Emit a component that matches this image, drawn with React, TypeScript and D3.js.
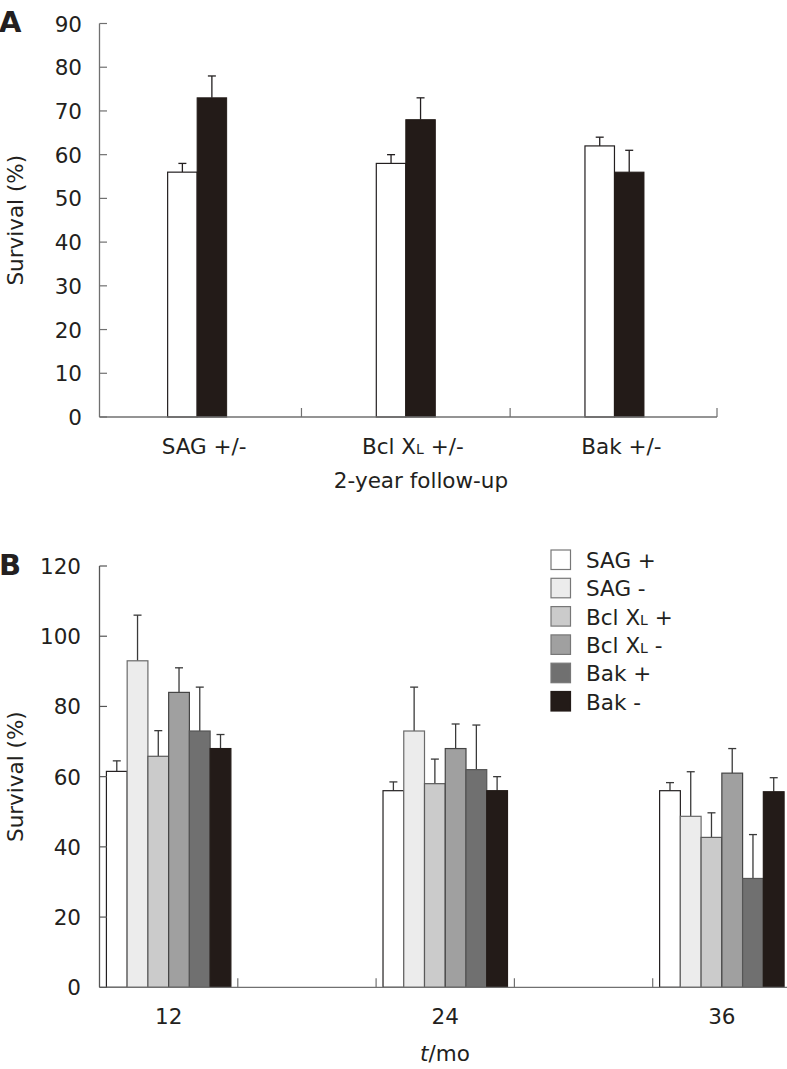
import React from "react";
import * as d3 from "d3";

// ---------- Panel A data ----------
const catsA = ["SAG", "BclXL", "Bak"];
const posA = [56, 58, 62];
const posAErr = [2, 2, 2];
const negA = [73, 68, 56];
const negAErr = [5, 5, 5];
const ticksA = [0, 10, 20, 30, 40, 50, 60, 70, 80, 90];

// ---------- Panel B data ----------
const monthsB = [12, 24, 36];
const seriesB = ["SAG +", "SAG -", "Bcl XL +", "Bcl XL -", "Bak +", "Bak -"];
const sagPos = [61.5, 56, 56];
const sagPosErr = [3, 2.5, 2.3];
const sagNeg = [93, 73, 48.7];
const sagNegErr = [13, 12.5, 12.7];
const bclPos = [65.8, 58, 42.7];
const bclPosErr = [7.3, 7, 7];
const bclNeg = [84, 68, 61];
const bclNegErr = [7, 7, 7];
const bakPos = [73, 62, 31];
const bakPosErr = [12.5, 12.7, 12.5];
const bakNeg = [68, 56, 55.7];
const bakNegErr = [4, 4, 4];
const ticksB = [0, 20, 40, 60, 80, 100, 120];
const colorsB = ["#ffffff", "#ececec", "#cbcbcb", "#a0a0a0", "#707070", "#231b18"];
const strokesB = ["#231f20", "#6a6a6a", "#5a5a5a", "#444", "#555", "#231b18"];

const valsB = [sagPos, sagNeg, bclPos, bclNeg, bakPos, bakNeg];
const errsB = [sagPosErr, sagNegErr, bclPosErr, bclNegErr, bakPosErr, bakNegErr];

const FONT = "DejaVu Sans";
const FS = 21.5;
const SUB = 14;

function CatLabel({ name, x, y }: { name: string; x: number; y: number }) {
  if (name === "BclXL") {
    return (
      <text x={x} y={y} textAnchor="middle" fontFamily={FONT} fontSize={FS} fill="#231f20">
        Bcl X<tspan fontSize={SUB}>L</tspan> +/-
      </text>
    );
  }
  return (
    <text x={x} y={y} textAnchor="middle" fontFamily={FONT} fontSize={FS} fill="#231f20">
      {name} +/-
    </text>
  );
}

function LegendLabel({ name, x, y }: { name: string; x: number; y: number }) {
  if (name.startsWith("Bcl XL")) {
    const rest = name.slice(6);
    return (
      <text x={x} y={y} fontFamily={FONT} fontSize={FS} fill="#231f20">
        Bcl X<tspan fontSize={SUB}>L</tspan>{rest}
      </text>
    );
  }
  return (
    <text x={x} y={y} fontFamily={FONT} fontSize={FS} fill="#231f20">
      {name}
    </text>
  );
}

export default function App() {
  // Panel A scales
  const xA = d3.scaleBand<string>().domain(catsA).range([92.8, 718.8]).padding(0);
  const yA = d3.scaleLinear().domain([0, 90]).range([417, 23.5]);
  const bwA = 29.5;

  // Panel B scales
  const xB = d3.scaleLinear().domain([9, 39]).range([99.5, 791]);
  const yB = d3.scaleLinear().domain([0, 120]).range([987.3, 566]);
  const bwB = (xB(15) - xB(9)) * 0.15;
  const axisTicksB = d3.range(9, 40, 6);

  const cap = 4;

  return (
    <svg
      width={787}
      height={1069}
      style={{ position: "absolute", left: 0, top: 0, background: "#fff" }}
    >
      <rect x={0} y={0} width={787} height={1069} fill="#fff" />
      {/* Panel letters */}
      <text x={-1} y={32} fontFamily={FONT} fontSize={29} fontWeight="bold" fill="#231f20">
        A
      </text>
      <text x={-1} y={575} fontFamily={FONT} fontSize={29} fontWeight="bold" fill="#231f20">
        B
      </text>

      {/* ================= Panel A ================= */}
      {catsA.map((c, i) => {
        const cx = xA(c)! + xA.bandwidth() / 2;
        const xw = cx - bwA;
        const xb = cx;
        const topW = yA(posA[i]);
        const topB = yA(negA[i]);
        const eW = yA(posA[i] + posAErr[i]);
        const eB = yA(negA[i] + negAErr[i]);
        return (
          <g key={c}>
            <line x1={xw + bwA / 2} x2={xw + bwA / 2} y1={topW} y2={eW} stroke="#231f20" strokeWidth={1.3} />
            <line x1={xw + bwA / 2 - cap} x2={xw + bwA / 2 + cap} y1={eW} y2={eW} stroke="#231f20" strokeWidth={1.3} />
            <line x1={xb + bwA / 2} x2={xb + bwA / 2} y1={topB} y2={eB} stroke="#231f20" strokeWidth={1.3} />
            <line x1={xb + bwA / 2 - cap} x2={xb + bwA / 2 + cap} y1={eB} y2={eB} stroke="#231f20" strokeWidth={1.3} />
            <rect x={xw} y={topW} width={bwA} height={yA(0) - topW} fill="#fff" stroke="#231f20" strokeWidth={1.2} />
            <rect x={xb} y={topB} width={bwA} height={yA(0) - topB} fill="#231b18" stroke="#231b18" strokeWidth={1} />
            <CatLabel name={c} x={cx + 7} y={454} />
          </g>
        );
      })}
      {/* axes A */}
      <line x1={99.5} x2={99.5} y1={yA(90)} y2={yA(0)} stroke="#707070" strokeWidth={1.3} />
      <line x1={99.5} x2={717} y1={yA(0)} y2={yA(0)} stroke="#707070" strokeWidth={1.3} />
      {ticksA.map((t) => (
        <g key={t}>
          <line x1={99.5} x2={107} y1={yA(t)} y2={yA(t)} stroke="#707070" strokeWidth={1.2} />
          <text x={82} y={yA(t) + 8} textAnchor="end" fontFamily={FONT} fontSize={FS} fill="#231f20">
            {t}
          </text>
        </g>
      ))}
      {catsA.slice(0, 2).map((c) => (
        <line key={c} x1={xA(c)! + xA.bandwidth()} x2={xA(c)! + xA.bandwidth()} y1={yA(0)} y2={yA(0) - 9} stroke="#707070" strokeWidth={1.2} />
      ))}
      <line x1={717} x2={717} y1={yA(0)} y2={yA(0) - 9} stroke="#707070" strokeWidth={1.2} />
      <text x={421} y={488} textAnchor="middle" fontFamily={FONT} fontSize={FS} fill="#231f20">
        2-year follow-up
      </text>
      <text
        transform={`translate(23, ${(yA(0) + yA(90)) / 2}) rotate(-90)`}
        textAnchor="middle"
        fontFamily={FONT}
        fontSize={FS}
        fill="#231f20"
      >
        Survival (%)
      </text>

      {/* ================= Panel B ================= */}
      {monthsB.map((m, mi) => {
        const start = xB(m) - 3 * bwB;
        return (
          <g key={m}>
            {seriesB.map((s, si) => {
              const x0 = start + si * bwB;
              const v = valsB[si][mi];
              const e = errsB[si][mi];
              const top = yB(v);
              const et = yB(v + e);
              const cx = x0 + bwB / 2;
              return (
                <g key={s}>
                  <line x1={cx} x2={cx} y1={top} y2={et} stroke="#3a3a3a" strokeWidth={1.3} />
                  <line x1={cx - cap} x2={cx + cap} y1={et} y2={et} stroke="#3a3a3a" strokeWidth={1.3} />
                  <rect x={x0} y={top} width={bwB} height={yB(0) - top} fill={colorsB[si]} stroke={strokesB[si]} strokeWidth={1.2} />
                </g>
              );
            })}
            <text x={xB(m)} y={1024} textAnchor="middle" fontFamily={FONT} fontSize={FS} fill="#231f20">
              {m}
            </text>
          </g>
        );
      })}
      {/* axes B */}
      <line x1={99.5} x2={99.5} y1={yB(120)} y2={yB(0)} stroke="#555" strokeWidth={1.3} />
      <line x1={99.5} x2={791} y1={yB(0)} y2={yB(0)} stroke="#707070" strokeWidth={1.3} />
      {ticksB.map((t) => (
        <g key={t}>
          <line x1={99.5} x2={107} y1={yB(t)} y2={yB(t)} stroke="#555" strokeWidth={1.2} />
          <text x={81} y={yB(t) + 8} textAnchor="end" fontFamily={FONT} fontSize={FS} fill="#231f20">
            {t}
          </text>
        </g>
      ))}
      {axisTicksB.slice(1).map((t) => (
        <line key={t} x1={xB(t)} x2={xB(t)} y1={yB(0)} y2={yB(0) - 9} stroke="#707070" strokeWidth={1.2} />
      ))}
      <text x={445} y={1061} textAnchor="middle" fontFamily={FONT} fontSize={FS} fill="#231f20">
        <tspan fontStyle="italic">t</tspan>/mo
      </text>
      <text
        transform={`translate(23, ${(yB(0) + yB(120)) / 2}) rotate(-90)`}
        textAnchor="middle"
        fontFamily={FONT}
        fontSize={FS}
        fill="#231f20"
      >
        Survival (%)
      </text>

      {/* legend */}
      {seriesB.map((s, si) => {
        const y0 = 550 + si * 28.3;
        return (
          <g key={s}>
            <rect x={551} y={y0} width={19.5} height={19.5} fill={colorsB[si]} stroke={si === 5 ? colorsB[5] : "#777"} strokeWidth={1.2} />
            <LegendLabel name={s} x={586} y={y0 + 18} />
          </g>
        );
      })}
    </svg>
  );
}
